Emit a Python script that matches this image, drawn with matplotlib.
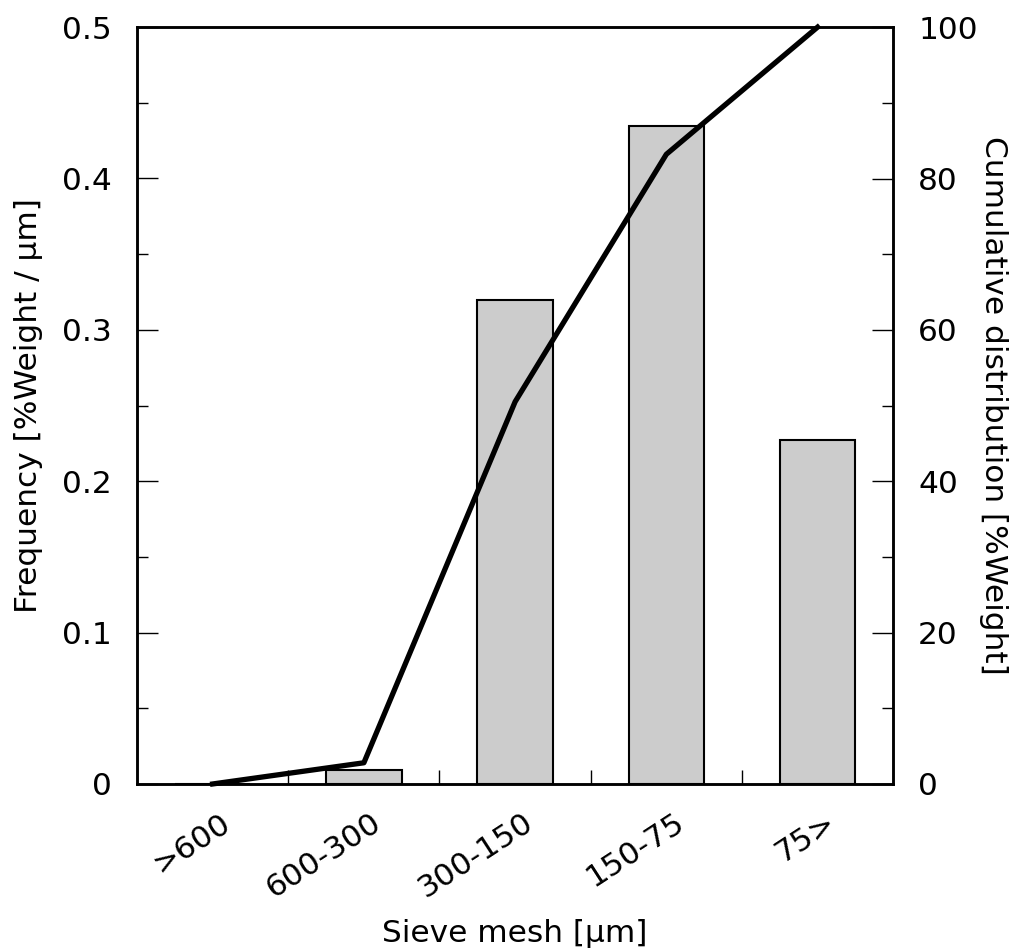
import matplotlib
matplotlib.use("Agg")
import matplotlib.pyplot as plt
import matplotlib.transforms as mtransforms
from matplotlib.ticker import MultipleLocator, FixedLocator

plt.rcParams['font.family'] = ['DejaVu Sans']
plt.rcParams['font.size'] = 22.5

categories = ['>600', '600-300', '300-150', '150-75', '75>']
frequency = [0.0, 0.009, 0.32, 0.435, 0.227]
cumulative = [0.0, 2.8, 50.5, 83.2, 100.0]

fig = plt.figure(figsize=(10.15, 9.52), dpi=100)
ax = fig.add_axes([0.135, 0.1765, 0.745, 0.795])
x = list(range(len(categories)))

ax.bar(x, frequency, width=0.5, color='#cccccc', edgecolor='black', linewidth=1.5, zorder=2)
ax.set_xlim(-0.5, 4.5)
ax.set_ylim(0, 0.5)
ax.set_ylabel('Frequency [%Weight / μm]', labelpad=14)

# category labels, rotated and nudged right of the bar centre
ax.set_xticks(x)
ax.set_xticklabels([])
shift = mtransforms.ScaledTranslation(0.15, -0.36, fig.dpi_scale_trans)
for xi, lab in zip(x, categories):
    ax.text(xi, 0, lab, rotation=33, ha='right', va='center', rotation_mode='anchor',
            transform=ax.get_xaxis_transform() + shift)
ax.set_xlabel('Sieve mesh [μm]', labelpad=94)
ax.xaxis.set_minor_locator(FixedLocator([0.5, 1.5, 2.5, 3.5]))
ax.tick_params(axis='x', which='major', length=0)
ax.tick_params(axis='x', which='minor', direction='in', length=10, width=1)

ax.yaxis.set_major_locator(MultipleLocator(0.1))
ax.yaxis.set_minor_locator(MultipleLocator(0.05))
ax.yaxis.set_major_formatter(plt.FuncFormatter(lambda v, p: '0' if v == 0 else f'{v:.1f}'))
ax.tick_params(axis='y', which='major', direction='in', length=15, width=1, pad=18)
ax.tick_params(axis='y', which='minor', direction='in', length=8, width=1)
for s in ax.spines.values():
    s.set_linewidth(1.8)

ax2 = ax.twinx()
ax2.plot(x, cumulative, color='black', linewidth=3.8, zorder=3, clip_on=False)
ax2.set_ylim(0, 100)
ax2.yaxis.set_major_locator(MultipleLocator(20))
ax2.yaxis.set_minor_locator(MultipleLocator(10))
ax2.tick_params(axis='y', which='major', direction='in', length=15, width=1, pad=18)
ax2.tick_params(axis='y', which='minor', direction='in', length=8, width=1)
ax2.set_ylabel('Cumulative distribution [%Weight]', rotation=270, labelpad=22)
for s in ax2.spines.values():
    s.set_linewidth(1.8)

fig.savefig('out.png', dpi=100)
